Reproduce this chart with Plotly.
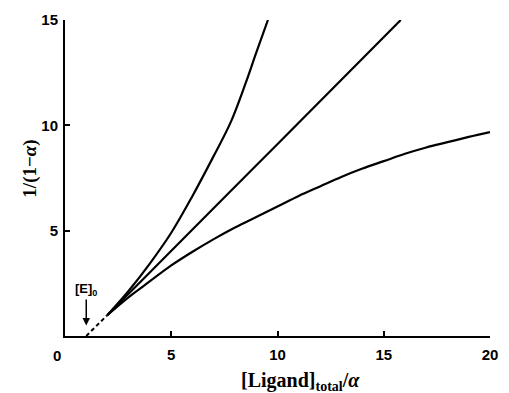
import plotly.graph_objects as go

# Binding curves: 1/(1-alpha) against [Ligand]total/alpha
e0 = 1.0
dash_x = [1.0, 2.0]
dash_y = [0.0, 1.0]

upper_x = [2.0, 3.0, 4.0, 5.0, 6.0, 7.0, 7.8, 8.5, 9.0, 9.55]
upper_y = [1.0, 2.15, 3.45, 4.9, 6.65, 8.55, 10.15, 12.0, 13.45, 15.0]

linear_x = [2.0, 7.6, 9.9, 15.8]
linear_y = [1.0, 6.68, 9.01, 15.0]

lower_x = [2, 3, 4, 5, 6, 7, 8, 9, 10, 11, 12, 13, 14, 15, 16, 17, 18, 19, 20]
lower_y = [1.0, 1.85, 2.6, 3.35, 4.0, 4.6, 5.15, 5.65, 6.15, 6.65, 7.1, 7.55,
           7.95, 8.3, 8.65, 8.95, 9.2, 9.45, 9.68]

x_ticks = [5, 10, 15, 20]
y_ticks = [5, 10, 15]

fig = go.Figure()
line = dict(color="black", width=2.2, shape="spline", smoothing=1.0)
for xs, ys in [(upper_x, upper_y), (linear_x, linear_y), (lower_x, lower_y)]:
    fig.add_trace(go.Scatter(x=xs, y=ys, mode="lines", line=line,
                             showlegend=False, hoverinfo="skip"))
fig.add_trace(go.Scatter(x=dash_x, y=dash_y, mode="lines",
                         line=dict(color="black", width=2, dash="4px,3px"),
                         showlegend=False, hoverinfo="skip"))

tick_font = dict(family="Liberation Sans", size=15, color="black", weight="bold")
fig.update_xaxes(range=[0, 20], tickvals=x_ticks, ticks="inside", ticklen=5,
                 tickwidth=2, tickcolor="black", showline=True, linewidth=2,
                 linecolor="black", showgrid=False, zeroline=False,
                 tickfont=tick_font, ticklabelstandoff=4)
fig.update_yaxes(range=[0, 15], tickvals=y_ticks, ticks="inside", ticklen=5,
                 tickwidth=2, tickcolor="black", showline=True, linewidth=2,
                 linecolor="black", showgrid=False, zeroline=False,
                 tickfont=tick_font, ticklabelstandoff=2)

fig.add_annotation(x=0, y=0, xref="x", yref="y", text="0", showarrow=False,
                   xanchor="center", yanchor="top", xshift=-8, yshift=-9,
                   font=tick_font)
fig.add_annotation(x=e0, y=0.5, xref="x", yref="y", ax=0, ay=-36,
                   text="<b>[E]<sub>0</sub></b>", showarrow=True, arrowhead=2,
                   arrowsize=1, arrowwidth=1.5, arrowcolor="black",
                   font=dict(family="Liberation Sans", size=13, color="black"))
fig.add_annotation(x=0.555, y=-0.145, xref="paper", yref="paper",
                   text="<b>[Ligand]<sub>total</sub>/<i>α</i></b>", showarrow=False,
                   yanchor="middle",
                   font=dict(family="Liberation Serif", size=20, color="black"))
fig.add_annotation(x=-0.115, y=0.53, xref="paper", yref="paper",
                   text="<b>1/(1−<i>α</i>)</b>", showarrow=False, textangle=-90,
                   font=dict(family="Liberation Serif", size=19, color="black"))

fig.update_layout(width=509, height=393, margin=dict(l=65, r=11, t=15, b=57),
                  plot_bgcolor="white", paper_bgcolor="white")
fig.write_html("out.html")
